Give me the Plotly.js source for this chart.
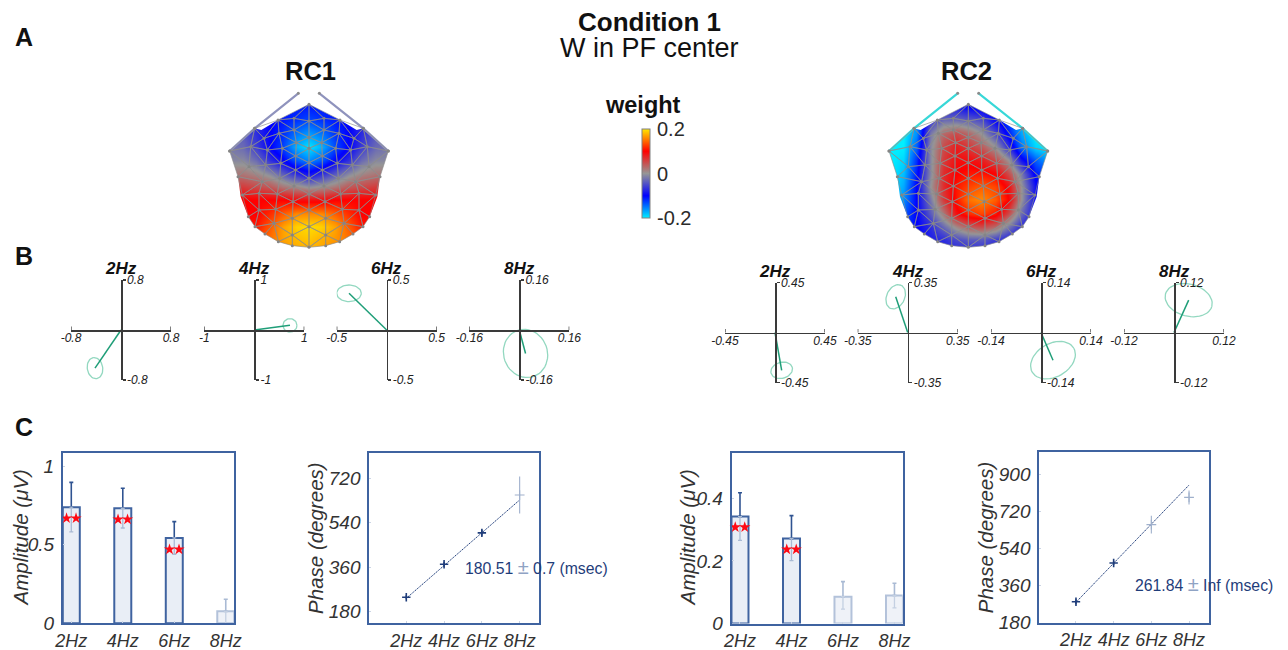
<!DOCTYPE html>
<html><head><meta charset="utf-8">
<script src="https://cdn.plot.ly/plotly-3.0.1.min.js"></script>
<style>html,body{margin:0;padding:0;background:#fff}</style></head>
<body><div id="chart" style="width:1288px;height:650px"></div>
<script>
const gridX = [90,130,170,210,250,290,327,365,405,445,485,525,565];
const gridY = [130,170,210,250,290,330,370,410,450,490,530,570,610];
const rc1Weights = [
[-.05,-.06,-.07,-.09,-.10,-.11,-.11,-.11,-.10,-.09,-.07,-.06,-.05],
[-.05,-.06,-.07,-.09,-.11,-.11,-.11,-.11,-.11,-.09,-.07,-.06,-.05],
[-.04,-.05,-.07,-.10,-.11,-.12,-.13,-.12,-.11,-.10,-.07,-.05,-.04],
[-.03,-.04,-.07,-.10,-.12,-.15,-.165,-.15,-.12,-.10,-.07,-.04,-.03],
[-.02,-.03,-.06,-.10,-.13,-.175,-.195,-.175,-.13,-.10,-.06,-.03,-.02],
[-.01,-.01,-.03,-.07,-.10,-.14,-.16,-.14,-.10,-.07,-.03,-.01,-.01],
[.02,.02,.01,-.01,-.04,-.07,-.09,-.07,-.04,-.01,.01,.02,.02],
[.06,.06,.05,.04,.02,.01,-.005,.005,.02,.04,.05,.06,.06],
[.10,.10,.10,.10,.10,.09,.09,.09,.10,.10,.10,.10,.10],
[.10,.10,.10,.12,.14,.16,.16,.16,.14,.12,.10,.10,.10],
[.11,.11,.11,.14,.17,.19,.195,.19,.17,.14,.11,.11,.11],
[.13,.13,.13,.15,.17,.18,.185,.175,.165,.15,.13,.13,.13],
[.14,.14,.14,.15,.16,.17,.17,.17,.15,.15,.14,.14,.14]];
const rc2Weights = [
[-.19,-.18,-.16,-.12,-.10,-.09,-.10,-.11,-.13,-.16,-.19,-.20,-.20],
[-.20,-.18,-.15,-.10,-.08,-.08,-.10,-.11,-.12,-.15,-.18,-.20,-.20],
[-.20,-.20,-.16,-.06,-.03,-.03,-.04,-.05,-.10,-.13,-.18,-.20,-.20],
[-.20,-.20,-.16,-.02,.03,.05,.03,.00,-.05,-.11,-.17,-.20,-.20],
[-.20,-.20,-.14,-.01,.05,.08,.06,.04,.00,-.07,-.15,-.19,-.20],
[-.20,-.19,-.12,-.01,.06,.09,.09,.08,.05,.00,-.09,-.14,-.17],
[-.20,-.18,-.11,-.01,.07,.10,.11,.11,.10,.05,-.02,-.11,-.13],
[-.20,-.17,-.10,.00,.07,.11,.13,.14,.13,.09,.00,-.09,-.10],
[-.20,-.16,-.10,-.02,.06,.11,.15,.16,.14,.10,.00,-.09,-.10],
[-.18,-.14,-.10,-.04,.02,.09,.12,.13,.11,.05,-.03,-.09,-.10],
[-.15,-.13,-.10,-.07,-.03,.01,.04,.05,.03,-.02,-.07,-.10,-.10],
[-.13,-.12,-.10,-.08,-.07,-.05,-.04,-.04,-.06,-.08,-.10,-.10,-.10],
[-.12,-.12,-.10,-.09,-.08,-.08,-.08,-.08,-.08,-.09,-.10,-.10,-.10]];
const weightTicks = [-0.2,0,0.2];
const weightLabels = ['-0.2','0','0.2'];
// half head outline and electrodes, as (offset from midline, depth)
const headHalf = [[0,163],[45,186],[93,210],[143,240],[163,235],[238,303],[213,380],[205,440],[182,500],[162,530],[132,552],[92,575],[50,587],[0,592]];
const electrodesMid = [[0,163],[0,213],[0,262],[0,295],[0,338],[0,385],[0,432],[0,480],[0,530],[0,592]];
const electrodesSide = [[45,205],[93,210],[163,235],[45,240],[90,250],[135,265],[38,278],[80,295],[125,300],[175,290],[238,303],
[40,318],[85,340],[130,345],[180,350],[40,360],[88,385],[140,395],[213,380],[45,408],[95,432],[150,430],[200,435],
[48,455],[100,478],[150,480],[182,500],[50,505],[105,520],[162,530],[132,552],[50,555],[92,575],[50,587]];

// ---- complex-valued responses (B)
const freqs = ['2Hz','4Hz','6Hz','8Hz'];
const polarLimitsRC1 = [0.8,1,0.5,0.16];
const polarLimitsRC2 = [0.45,0.35,0.14,0.12];
const polarLabelsRC1 = ['0.8','1','0.5','0.16'];
const polarLabelsRC2 = ['0.45','0.35','0.14','0.12'];
const vecXRC1 = [-.416,.713,-.377,.020];
const vecYRC1 = [-.61,.093,.367,-.075];
const vecXRC2 = [.06,-.084,.0336,.0352];
const vecYRC2 = [-.34,.25,-.0775,.0776];
const ellLongRC1 = [.17,.14,.123,.078];
const ellShortRC1 = [.123,.135,.083,.070];
const ellTiltRC1 = [100,0,0,110];
const ellLongRC2 = [.099,.089,.0672,.0576];
const ellShortRC2 = [.072,.063,.0467,.0384];
const ellTiltRC2 = [15,65,30,-15];

// ---- amplitudes and phases (C)
const ampRC1 = [.74,.733,.544,.076];
const ampUpRC1 = [.898,.86,.648,.153];
const ampLowRC1 = [.582,.607,.44,0];
const ampSigRC1 = [true,true,true,false];
const starRC1 = [.669,.662,.471,null];
const ampRC2 = [.342,.272,.086,.09];
const ampUpRC2 = [.418,.345,.134,.129];
const ampLowRC2 = [.266,.201,.046,.05];
const ampSigRC2 = [true,true,false,false];
const starRC2 = [.308,.237,null,null];
const phaseRC1 = [238,372,499,652];
const phaseErrRC1 = [8,10,12,75];
const phaseFitRC1 = [234,632];
const phaseRC2 = [282,470,656,788];
const phaseErrRC2 = [12,10,43,34];
const phaseFitRC2 = [279,848];
const phaseTicksRC1 = [180,360,540,720];
const phaseTicksRC2 = [180,360,540,720,900];

// ---- helpers
const W=1288,H=650, FONT='"Liberation Sans", Arial, sans-serif', INK='#2b2b2b';
const BLUE='#3f63a0', LIGHT='#b3c2da', NAVY='#1f3d7a';
const fx=p=>p/W, fy=p=>1-p/H;
const dX=(a,b)=>[fx(a),fx(b)], dY=(top,bot)=>[fy(bot),fy(top)];
const traces=[], layout={width:W,height:H,margin:{l:0,r:0,t:0,b:0},paper_bgcolor:'#fff',plot_bgcolor:'rgba(0,0,0,0)',
  showlegend:false,bargap:0,annotations:[],font:{family:FONT,color:INK},
  coloraxis:{cmin:-0.2,cmax:0.2,colorscale:[[0,'#00f0ff'],[.25,'#0000ff'],[.5,'#969696'],[.75,'#ff0000'],[1,'#ffe800']],
   colorbar:{x:fx(641.5),xanchor:'left',y:fy(173.5),yanchor:'middle',thickness:8,thicknessmode:'pixels',len:89,lenmode:'pixels',
     xpad:0,ypad:0,outlinecolor:'#808080',outlinewidth:1,tickvals:weightTicks,ticktext:weightLabels,ticks:'outside',ticklen:3,tickcolor:'rgba(0,0,0,0)',
     tickfont:{family:FONT,size:20,color:INK}}}};
function text(t,x,y,size,opt={}){layout.annotations.push({text:t,xref:'paper',yref:'paper',x:fx(x),y:fy(y),showarrow:false,textangle:opt.angle||0,
  xanchor:'center',yanchor:'middle',font:{family:FONT,size,color:opt.color||'#111',weight:opt.bold?700:400,style:opt.italic?'italic':'normal'}});}

// Bowyer-Watson triangulation of electrode positions (only to draw the mesh)
function triangulate(pts){
  const s=[[-2000,-2000],[3000,-2000],[500,4000]], all=pts.concat(s), n=pts.length;
  let tris=[[n,n+1,n+2]];
  const inC=(t,p)=>{const [a,b,c]=t.map(i=>all[i]);
    const ax=a[0]-p[0],ay=a[1]-p[1],bx=b[0]-p[0],by=b[1]-p[1],cx=c[0]-p[0],cy=c[1]-p[1];
    const d=(ax*ax+ay*ay)*(bx*cy-cx*by)-(bx*bx+by*by)*(ax*cy-cx*ay)+(cx*cx+cy*cy)*(ax*by-bx*ay);
    const o=(b[0]-a[0])*(c[1]-a[1])-(b[1]-a[1])*(c[0]-a[0]);
    return o>0?d>0:d<0;};
  pts.forEach((p,i)=>{
    const bad=tris.filter(t=>inC(t,p)); const edges={};
    bad.forEach(t=>[[0,1],[1,2],[2,0]].forEach(([u,v])=>{const e=[t[u],t[v]].sort((a,b)=>a-b).join();edges[e]=(edges[e]||0)+1;}));
    tris=tris.filter(t=>!bad.includes(t));
    Object.keys(edges).filter(e=>edges[e]===1).forEach(e=>{const [a,b]=e.split(',').map(Number);tris.push([a,b,i]);});
  });
  return tris.filter(t=>t.every(i=>i<n));
}
function inPoly(p,poly){let c=false;for(let i=0,j=poly.length-1;i<poly.length;j=i++){const a=poly[i],b=poly[j];
  if((a[1]>p[1])!==(b[1]>p[1])&&p[0]<(b[0]-a[0])*(p[1]-a[1])/(b[1]-a[1])+a[0])c=!c;}return c;}

function headMap(idx,left,mid,z,wire){
  const ax=idx===1?'':idx;
  layout['xaxis'+ax]={domain:dX(left,left+220),range:[0,660],visible:false,fixedrange:true};
  layout['yaxis'+ax]={domain:dY(50,255),range:[615,0],visible:false,fixedrange:true,anchor:'x'+ax};
  const xa='x'+ax, ya='y'+ax;
  traces.push({type:'heatmap',x:gridX,y:gridY,z,zsmooth:'best',coloraxis:'coloraxis',xaxis:xa,yaxis:ya,hoverinfo:'skip'});
  const right=headHalf.map(([d,y])=>[mid+d,y]);
  const leftS=headHalf.slice(1,-1).reverse().map(([d,y])=>[mid-d,y]);
  const outline=right.concat(leftS); // apex -> right side -> bottom -> left side
  const nR=headHalf.length-1;
  const ring=outline.slice(nR).concat(outline.slice(0,nR)).reverse(); // bottom -> right side -> apex -> left side
  const mx=[40,620,620,mid].concat([mid],ring.map(p=>p[0]),[mid,mid,40,40]);
  const my=[100,100,640,640].concat([592],ring.map(p=>p[1]),[592,640,640,100]);
  traces.push({type:'scatter',mode:'lines',x:mx,y:my,fill:'toself',fillcolor:'#fff',line:{width:0},xaxis:xa,yaxis:ya,hoverinfo:'skip'});
  // nose wires
  const wx=[mid-32,mid-163,mid-238,null,mid+31,mid+163,mid+238], wy=[130,235,303,null,130,235,303];
  traces.push({type:'scatter',mode:'lines',x:wx,y:wy,line:{width:2.2,color:wire},xaxis:xa,yaxis:ya,hoverinfo:'skip'});
  traces.push({type:'scatter',mode:'markers',x:wx,y:wy,marker:{size:3,color:'#8c8c8c'},xaxis:xa,yaxis:ya,hoverinfo:'skip'});
  // mesh
  const pts=electrodesMid.map(([d,y])=>[mid,y]).concat(electrodesSide.map(([d,y])=>[mid+d,y]),electrodesSide.map(([d,y])=>[mid-d,y]));
  const tris=triangulate(pts).filter(t=>{const cx=(pts[t[0]][0]+pts[t[1]][0]+pts[t[2]][0])/3,cy=(pts[t[0]][1]+pts[t[1]][1]+pts[t[2]][1])/3;return inPoly([cx,cy],outline);});
  const ex=[],ey=[];
  tris.forEach(t=>{[0,1,2,0].forEach(i=>{ex.push(pts[t[i]][0]);ey.push(pts[t[i]][1]);});ex.push(null);ey.push(null);});
  traces.push({type:'scatter',mode:'lines',x:ex,y:ey,line:{width:.65,color:'#8c8c8c'},xaxis:xa,yaxis:ya,hoverinfo:'skip'});
  traces.push({type:'scatter',mode:'markers',x:pts.map(p=>p[0]),y:pts.map(p=>p[1]),marker:{size:3,color:'#858585'},xaxis:xa,yaxis:ya,hoverinfo:'skip'});
}

function polar(idx,cx,cy,m,lab,vx,vy,a,b,tiltDeg,freq){
  const hw=50;
  const tf={family:FONT,size:12,style:'italic',color:'#222'};
  const base={zeroline:false,showgrid:false,showline:true,linecolor:'#3a3a3a',linewidth:1.7,tickcolor:'#3a3a3a',tickwidth:1.3,ticklen:3,
    tickmode:'array',tickvals:[-m,m],ticktext:['-'+lab,lab],tickfont:tf,tickangle:0,anchor:'free',fixedrange:true};
  layout['xaxis'+idx]=Object.assign({},base,{domain:dX(cx-hw,cx+hw),range:[-m,m],position:fy(cy),ticks:'',side:'bottom',ticklabelstandoff:-4});
  layout['yaxis'+idx]=Object.assign({},base,{domain:dY(cy-hw,cy+hw),range:[-m,m],position:fx(cx),ticks:'outside',side:'right',ticklabelstandoff:-1});
  // small upward end caps on the horizontal axis
  traces.push({type:'scatter',mode:'lines',x:[-m,-m,null,m,m],y:[0,m*.07,null,0,m*.07],line:{color:'#3a3a3a',width:1.3},xaxis:'x'+idx,yaxis:'y'+idx,hoverinfo:'skip',cliponaxis:false});
  const t=tiltDeg*Math.PI/180, ex=[],ey=[];
  for(let k=0;k<=48;k++){const w=k/48*2*Math.PI;const u=a*Math.cos(w),v=b*Math.sin(w);
    ex.push(vx+u*Math.cos(t)-v*Math.sin(t));ey.push(vy+u*Math.sin(t)+v*Math.cos(t));}
  traces.push({type:'scatter',mode:'lines',x:ex,y:ey,line:{color:'#93d8c0',width:1.3},xaxis:'x'+idx,yaxis:'y'+idx,hoverinfo:'skip',cliponaxis:false});
  traces.push({type:'scatter',mode:'lines',x:[0,vx],y:[0,vy],line:{color:'#1f9e78',width:1.5},xaxis:'x'+idx,yaxis:'y'+idx,hoverinfo:'skip',cliponaxis:false});
  text(freq,cx,cy-61.5,17,{bold:true,italic:true});
}

const boxAxis={showline:true,mirror:true,linecolor:BLUE,linewidth:2,zeroline:false,showgrid:false,fixedrange:true,
  ticks:'inside',ticklen:2,tickcolor:'#ccd5e4',tickwidth:1,tickangle:0,
  tickfont:{family:FONT,size:19,style:'italic',color:'#333'}};
function xCat(idx,x0,x1,r){layout['xaxis'+idx]=Object.assign({},boxAxis,{domain:dX(x0,x1),range:r,tickmode:'array',tickvals:[1,2,3,4],ticktext:freqs,anchor:'y'+idx,ticklabelstandoff:0,
  tickfont:{family:FONT,size:18,style:'italic',color:'#333'}});}
function yAxis(idx,y0,y1,r,tv,tt,title,standoff){const a=Object.assign({},boxAxis,{domain:dY(y0,y1),range:r,tickmode:'array',tickvals:tv,ticktext:tt,anchor:'x'+idx,ticklabelstandoff:3});
  if(title)a.title={text:title,standoff,font:{family:FONT,size:20.5,style:'italic',color:'#333'}};
  layout['yaxis'+idx]=a;}

function ampPanel(idx,x0,x1,y0,y1,r,xr,amp,up,low,sig,star,tv,tt,titleX){
  xCat(idx,x0,x1,xr); yAxis(idx,y0,y1,r,tv,tt,null,0);
  text('Amplitude (μV)',titleX,538.5,20.5,{italic:true,angle:-90,color:'#333'});
  const xs=[1,2,3,4], xa='x'+idx, ya='y'+idx;
  traces.push({type:'bar',x:xs,y:amp,width:.33,xaxis:xa,yaxis:ya,hoverinfo:'skip',
    marker:{color:sig.map(s=>s?'#e9eef6':'#eff2f8'),line:{color:sig.map(s=>s?BLUE:LIGHT),width:2}}});
  const err=(want,col,colLow)=>{
    const xx=xs.filter((_,i)=>sig[i]===want), yy=amp.filter((_,i)=>sig[i]===want);
    const uu=up.filter((_,i)=>sig[i]===want), ll=low.filter((_,i)=>sig[i]===want);
    if(!xx.length)return;
    traces.push({type:'scatter',mode:'markers',x:xx,y:yy,marker:{size:1,opacity:0},xaxis:xa,yaxis:ya,hoverinfo:'skip',
      error_y:{type:'data',symmetric:false,array:uu.map((u,i)=>u-yy[i]),arrayminus:uu.map(()=>0),color:col,thickness:1.6,width:2}});
    traces.push({type:'scatter',mode:'markers',x:xx,y:yy,marker:{size:1,opacity:0},xaxis:xa,yaxis:ya,hoverinfo:'skip',
      error_y:{type:'data',symmetric:false,array:ll.map(()=>0),arrayminus:ll.map((l,i)=>yy[i]-l),color:colLow,thickness:1.3,width:2}});
  };
  err(true,'#2f5391','#a9bad4'); err(false,'#a9bad4','#c4d0e2');
  const sx=[],sy=[];
  star.forEach((v,i)=>{if(v!==null){sx.push(xs[i]-.092,xs[i]+.092);sy.push(v,v);}});
  traces.push({type:'scatter',mode:'markers',x:sx,y:sy,marker:{symbol:'star',size:8.5,color:'#ff0a14',line:{width:0}},xaxis:xa,yaxis:ya,hoverinfo:'skip',cliponaxis:false});
}
function phasePanel(idx,x0,x1,y0,y1,r,xr,ph,er,fit,sig,tv,sto){
  xCat(idx,x0,x1,xr); yAxis(idx,y0,y1,r,tv,tv.map(String),'Phase (degrees)',sto);
  const xs=[1,2,3,4], xa='x'+idx, ya='y'+idx;
  traces.push({type:'scatter',mode:'lines',x:[1,4],y:fit,line:{color:NAVY,width:1,dash:'1.5px,0.8px'},xaxis:xa,yaxis:ya,hoverinfo:'skip'});
  [[true,'#1f3d7a'],[false,'#9fb0cc']].forEach(([want,col])=>{
    const ii=xs.map((_,i)=>i).filter(i=>sig[i]===want);
    traces.push({type:'scatter',mode:'markers',x:ii.map(i=>xs[i]),y:ii.map(i=>ph[i]),xaxis:xa,yaxis:ya,hoverinfo:'skip',
      marker:{symbol:'cross-thin',size:want?6:7,line:{color:col,width:want?1.6:1.1}},
      error_y:{type:'data',array:ii.map(i=>er[i]),color:col,thickness:want?1.4:1.1,width:0}});
  });
}

// ---- build
headMap(1,200,327,rc1Weights,'#8f93bd');
headMap(2,860,325,rc2Weights,'#38d8d8');
const cxs=[121,254.3,386.7,519.3], cxs2=[775,907.7,1041,1174];
freqs.forEach((f,i)=>{
  polar(3+i,cxs[i],330,polarLimitsRC1[i],polarLabelsRC1[i],vecXRC1[i],vecYRC1[i],ellLongRC1[i],ellShortRC1[i],ellTiltRC1[i],f);
  polar(7+i,cxs2[i],332.5,polarLimitsRC2[i],polarLabelsRC2[i],vecXRC2[i],vecYRC2[i],ellLongRC2[i],ellShortRC2[i],ellTiltRC2[i],f);
});
ampPanel(11,63,234,453.3,623.3,[0,1.083],[.839,4.16],ampRC1,ampUpRC1,ampLowRC1,ampSigRC1,starRC1,[0,.5,1],['0','0.5','1'],20);
phasePanel(12,369.3,539.3,453.3,623,[134,821],[.021,4.52],phaseRC1,phaseErrRC1,phaseFitRC1,ampSigRC1,phaseTicksRC1,0);
ampPanel(13,731.7,902.7,453.3,623.6,[0,.544],[.839,4.16],ampRC2,ampUpRC2,ampLowRC2,ampSigRC2,starRC2,[0,.2,.4],['0','0.2','0.4'],687);
phasePanel(14,1039.3,1209,452.3,622.7,[180,1007],[.027,4.53],phaseRC2,phaseErrRC2,phaseFitRC2,ampSigRC2,phaseTicksRC2,0);

// ---- text
const PM='<span style="color:#8fa3c4;font-size:20px">±</span>';
text('Condition 1',649,22,26,{bold:true});
text('W in PF center',649,48,27);
text('A',24,37,25,{bold:true}); text('B',24,256,25,{bold:true}); text('C',24,427,25,{bold:true});
text('RC1',310,71,25.5,{bold:true}); text('RC2',966,71,25.5,{bold:true});
text('weight',643,105,23.5,{bold:true});
text('180.51 '+PM+' 0.7 (msec)',536,566.5,15.8,{color:NAVY});
text('261.84 '+PM+' Inf (msec)',1203.5,584,15.8,{color:NAVY});

Plotly.newPlot('chart',traces,layout,{staticPlot:true,displayModeBar:false});
</script></body></html>
